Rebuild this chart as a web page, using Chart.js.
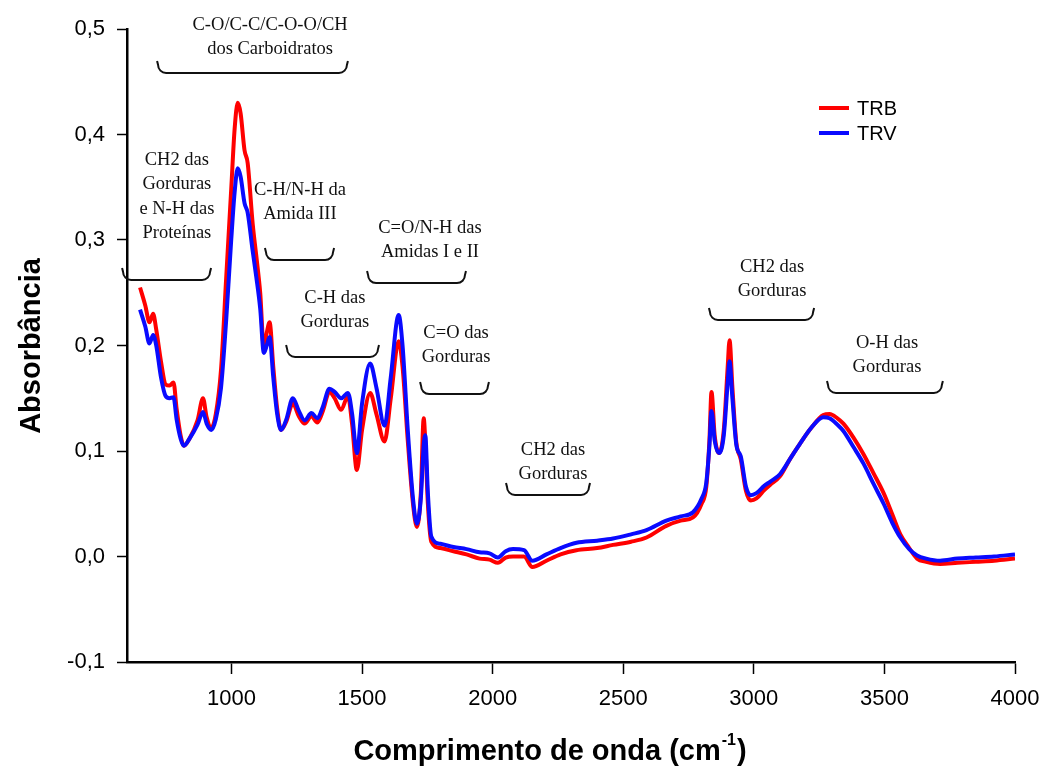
<!DOCTYPE html>
<html>
<head>
<meta charset="utf-8">
<script src="https://cdn.jsdelivr.net/npm/chart.js@4"></script>
<style>
  html, body { margin: 0; padding: 0; background: #fff; }
  #wrap { width: 1040px; height: 769px; position: relative; }
</style>
</head>
<body>
<div id="wrap"><canvas id="c" width="1040" height="769"></canvas></div>
<script>
// ---- data ----
const wavenumbers = [650,670,686,700,712,730,748,763,778,790,805,818,840,870,891,905,923,940,960,980,999,1012,1024,1035,1050,1062,1081,1095,1110,1124,1135,1146,1160,1175,1190,1210,1235,1258,1280,1306,1329,1350,1375,1395,1420,1446,1462,1480,1500,1531,1555,1586,1610,1640,1655,1675,1695,1710,1725,1736,1742,1752,1765,1800,1850,1900,1950,1988,2020,2050,2078,2120,2152,2206,2260,2321,2400,2461,2530,2589,2665,2720,2767,2800,2818,2830,2838,2850,2867,2885,2900,2907,2918,2933,2950,2970,2988,3010,3040,3063,3100,3140,3177,3220,3266,3290,3320,3343,3381,3420,3458,3497,3530,3561,3595,3625,3660,3713,3780,3850,3920,4000];
const trb = [0.255,0.238,0.222,0.230,0.215,0.185,0.163,0.162,0.165,0.140,0.115,0.105,0.112,0.129,0.150,0.132,0.122,0.135,0.177,0.265,0.348,0.405,0.430,0.420,0.385,0.373,0.316,0.285,0.250,0.198,0.212,0.222,0.180,0.140,0.120,0.128,0.145,0.133,0.126,0.133,0.127,0.138,0.156,0.150,0.139,0.152,0.125,0.082,0.120,0.155,0.135,0.109,0.150,0.204,0.180,0.110,0.050,0.028,0.060,0.131,0.110,0.050,0.014,0.008,0.005,0.002,-0.002,-0.003,-0.006,-0.001,0.000,0.000,-0.010,-0.004,0.002,0.006,0.008,0.011,0.014,0.018,0.029,0.034,0.037,0.050,0.066,0.110,0.156,0.115,0.098,0.120,0.180,0.205,0.160,0.108,0.092,0.062,0.053,0.055,0.063,0.068,0.076,0.093,0.107,0.122,0.134,0.135,0.131,0.126,0.113,0.097,0.079,0.060,0.040,0.021,0.008,-0.002,-0.005,-0.007,-0.006,-0.005,-0.004,-0.002];
const trv = [0.234,0.218,0.202,0.210,0.200,0.170,0.152,0.150,0.151,0.130,0.112,0.105,0.112,0.125,0.137,0.126,0.120,0.130,0.160,0.225,0.300,0.345,0.368,0.360,0.335,0.326,0.290,0.265,0.235,0.193,0.200,0.208,0.170,0.135,0.120,0.130,0.150,0.138,0.129,0.136,0.131,0.142,0.159,0.156,0.150,0.155,0.135,0.098,0.145,0.183,0.160,0.124,0.170,0.229,0.200,0.120,0.055,0.031,0.055,0.105,0.115,0.060,0.019,0.012,0.009,0.007,0.004,0.003,-0.001,0.005,0.007,0.006,-0.004,0.002,0.008,0.013,0.015,0.017,0.021,0.025,0.034,0.038,0.042,0.055,0.070,0.105,0.138,0.110,0.098,0.115,0.165,0.185,0.150,0.106,0.095,0.066,0.058,0.060,0.067,0.071,0.078,0.093,0.107,0.122,0.132,0.131,0.125,0.119,0.104,0.088,0.069,0.050,0.032,0.018,0.007,0.001,-0.002,-0.004,-0.002,-0.001,0.000,0.002];
const seriesNames = ['TRB', 'TRV'];
const xTicks = [1000,1500,2000,2500,3000,3500,4000];
const yTicks = [-0.1,0.0,0.1,0.2,0.3,0.4,0.5];
const yTickLabels = ['-0,1','0,0','0,1','0,2','0,3','0,4','0,5'];
const xTitle = 'Comprimento de onda (cm';
const xTitleSup = '-1';
const yTitle = 'Absorbância';

// annotation labels: text lines, text anchor (data), bracket span (data)
const annotations = [
  { lines: ['C-O/C-C/C-O-O/CH', 'dos Carboidratos'], tx: 1148, ty: 0.5038, bx1: 719, bx2: 1442, by: 0.4583 },
  { lines: ['CH2 das', 'Gorduras', 'e N-H das', 'Proteínas'], tx: 791, ty: 0.3758, bx1: 585, bx2: 918, by: 0.2621, clipLast: true },
  { lines: ['C-H/N-H da', 'Amida III'], tx: 1262, ty: 0.3474, bx1: 1132, bx2: 1389, by: 0.2810 },
  { lines: ['C=O/N-H das', 'Amidas I e II'], tx: 1760, ty: 0.3114, bx1: 1523, bx2: 1894, by: 0.2592 },
  { lines: ['C-H das', 'Gorduras'], tx: 1396, ty: 0.2450, bx1: 1213, bx2: 1561, by: 0.1891 },
  { lines: ['C=O das', 'Gorduras'], tx: 1860, ty: 0.2118, bx1: 1726, bx2: 1982, by: 0.1540 },
  { lines: ['CH2 das', 'Gorduras'], tx: 2231, ty: 0.1009, bx1: 2055, bx2: 2369, by: 0.0583 },
  { lines: ['CH2 das', 'Gorduras'], tx: 3070, ty: 0.2744, bx1: 2832, bx2: 3227, by: 0.2242 },
  { lines: ['O-H das', 'Gorduras'], tx: 3510, ty: 0.2024, bx1: 3284, bx2: 3720, by: 0.1550 }
];

const RED = '#ff0000';
const BLUE = '#0a0aff';
const SANS = '"Liberation Sans", Arial, sans-serif';
const SERIF = '"Liberation Serif", "Times New Roman", serif';

const toPoints = (ys) => wavenumbers.map((x, i) => ({ x: x, y: ys[i] }));

const decorPlugin = {
  id: 'decor',
  afterDraw(chart) {
    const ctx = chart.ctx;
    const xs = chart.scales.x, ys = chart.scales.y;
    ctx.save();
    // annotations
    ctx.fillStyle = '#111';
    ctx.strokeStyle = '#111';
    ctx.lineWidth = 2;
    ctx.font = '18.5px ' + SERIF;
    ctx.textAlign = 'center';
    ctx.textBaseline = 'middle';
    annotations.forEach(a => {
      const tx = xs.getPixelForValue(a.tx);
      const ty = ys.getPixelForValue(a.ty);
      a.lines.forEach((ln, i) => {
        const yy = ty + i * 24.5;
        if (a.clipLast && i === a.lines.length - 1) {
          ctx.save();
          ctx.beginPath();
          ctx.rect(tx - 80, yy - 20, 160, 26);
          ctx.clip();
          ctx.fillText(ln, tx, yy);
          ctx.restore();
        } else {
          ctx.fillText(ln, tx, yy);
        }
      });
      const x1 = xs.getPixelForValue(a.bx1), x2 = xs.getPixelForValue(a.bx2);
      const yb = ys.getPixelForValue(a.by);
      const h = 12, r = 8;
      ctx.beginPath();
      ctx.moveTo(x1 - 1, yb - h);
      ctx.lineTo(x1, yb - r);
      ctx.arcTo(x1, yb, x1 + r, yb, r);
      ctx.lineTo(x2 - r, yb);
      ctx.arcTo(x2, yb, x2, yb - r, r);
      ctx.lineTo(x2 + 1, yb - h);
      ctx.stroke();
    });

    // legend
    const legendItems = [{ name: seriesNames[0], color: RED }, { name: seriesNames[1], color: BLUE }];
    ctx.font = '20px ' + SANS;
    ctx.textAlign = 'left';
    legendItems.forEach((it, i) => {
      const y = 108 + i * 25;
      ctx.strokeStyle = it.color;
      ctx.lineWidth = 4;
      ctx.beginPath();
      ctx.moveTo(819, y);
      ctx.lineTo(849, y);
      ctx.stroke();
      ctx.fillStyle = '#000';
      ctx.fillText(it.name, 857, y + 1);
    });

    // axis titles
    ctx.fillStyle = '#000';
    ctx.font = 'bold 29px ' + SANS;
    ctx.save();
    ctx.translate(32, 346);
    ctx.rotate(-Math.PI / 2);
    ctx.textAlign = 'center';
    ctx.textBaseline = 'middle';
    ctx.fillText(yTitle, 0, 0);
    ctx.restore();

    ctx.textBaseline = 'alphabetic';
    ctx.textAlign = 'left';
    const mainW = ctx.measureText(xTitle).width;
    ctx.font = 'bold 16px ' + SANS;
    const supW = ctx.measureText(xTitleSup).width;
    ctx.font = 'bold 29px ' + SANS;
    const total = mainW + supW + ctx.measureText(')').width + 2;
    const x0 = 550 - total / 2;
    const base = 760;
    ctx.fillText(xTitle, x0, base);
    ctx.font = 'bold 16px ' + SANS;
    ctx.fillText(xTitleSup, x0 + mainW + 1, base - 15);
    ctx.font = 'bold 29px ' + SANS;
    ctx.fillText(')', x0 + mainW + supW + 2, base);
    ctx.restore();
  }
};

new Chart(document.getElementById('c'), {
  type: 'line',
  data: {
    datasets: [
      { label: seriesNames[0], data: toPoints(trb), borderColor: RED, borderWidth: 4, pointRadius: 0, fill: false, cubicInterpolationMode: 'monotone', order: 2 },
      { label: seriesNames[1], data: toPoints(trv), borderColor: BLUE, borderWidth: 4, pointRadius: 0, fill: false, cubicInterpolationMode: 'monotone', order: 1 }
    ]
  },
  options: {
    responsive: false,
    animation: false,
    devicePixelRatio: 1,
    layout: { padding: { top: 29, right: 25, left: 0, bottom: 0 } },
    plugins: { legend: { display: false }, tooltip: { enabled: false }, title: { display: false } },
    scales: {
      x: {
        type: 'linear', min: 600, max: 4000,
        afterBuildTicks: (s) => { s.ticks = xTicks.map(v => ({ value: v })); },
        afterFit: (s) => { s.height = 107; s.paddingLeft = 0; s.paddingRight = 0; },
        grid: { display: true, drawOnChartArea: false, drawTicks: true, tickLength: 12, tickColor: '#000', tickWidth: 1.5 },
        border: { display: true, color: '#000', width: 2.5 },
        ticks: {
          color: '#000', font: { family: SANS, size: 22 }, padding: 12, maxRotation: 0, autoSkip: false,
          callback: (v) => { const i = xTicks.indexOf(v); return i >= 0 ? String(xTicks[i]) : ''; }
        }
      },
      y: {
        type: 'linear', min: -0.1, max: 0.5,
        afterBuildTicks: (s) => { s.ticks = yTicks.map(v => ({ value: v })); },
        afterFit: (s) => { s.width = 127; s.paddingTop = 0; s.paddingBottom = 0; },
        grid: { display: true, drawOnChartArea: false, drawTicks: true, tickLength: 10, tickColor: '#000', tickWidth: 1.5 },
        border: { display: true, color: '#000', width: 2.5 },
        ticks: {
          color: '#000', font: { family: SANS, size: 22 }, padding: 12, autoSkip: false,
          callback: (v) => { const i = yTicks.findIndex(t => Math.abs(t - v) < 1e-9); return i >= 0 ? yTickLabels[i] : ''; }
        }
      }
    }
  },
  plugins: [decorPlugin]
});
</script>
</body>
</html>
